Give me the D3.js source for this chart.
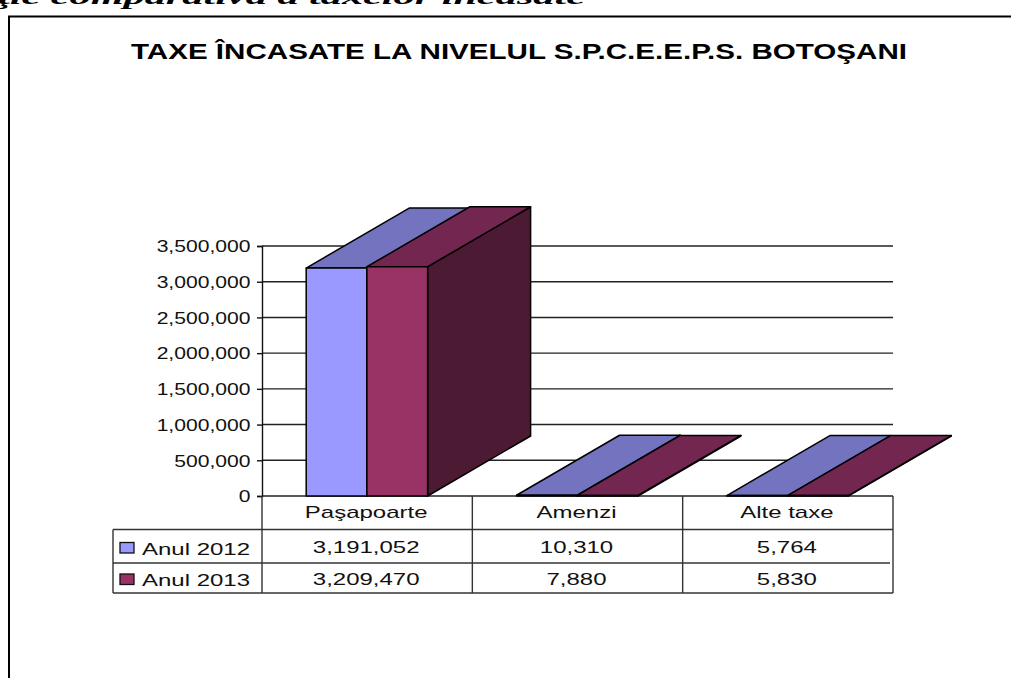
<!DOCTYPE html>
<html>
<head>
<meta charset="utf-8">
<script src="https://cdn.jsdelivr.net/npm/d3@7"></script>
<style>
  html, body { margin: 0; padding: 0; background: #fff; overflow: hidden; }
  svg { display: block; }
  text { font-family: "Liberation Sans", Arial, sans-serif; fill: #111; }
</style>
</head>
<body>
<svg id="chart" width="1011" height="678"></svg>
<script>
const headingText = "ţie comparativă a taxelor încasate";
const titleText = "TAXE ÎNCASATE LA NIVELUL S.P.C.E.E.P.S. BOTOŞANI";
const categories = ["Paşapoarte", "Amenzi", "Alte taxe"];
const seriesNames = ["Anul 2012", "Anul 2013"];
const values2012 = [3191052, 10310, 5764];
const values2013 = [3209470, 7880, 5830];
const yTicks = [0, 500000, 1000000, 1500000, 2000000, 2500000, 3000000, 3500000];
const frontColors = ["#9999ff", "#993366"];
const topColors = ["#7373bf", "#732650"];
const sideColors = ["#7373bf", "#4d1a33"];

const svg = d3.select("#chart");
const fmt = d3.format(",");
const tickStretch = 1.32, tableStretch = 1.5;
const depthX = 103, depthY = 60;
const plot = { left: 262, right: 893, bottom: 496, top: 246 };
const rows = { head: 529.5, first: 563, second: 593, left: 113 };

const y = d3.scaleLinear().domain([0, 3500000]).range([plot.bottom, plot.top]);
const x = d3.scaleBand().domain(categories).range([plot.left, plot.right]);
const xInner = d3.scaleBand().domain(seriesNames).range([44.2, 165.6]);
const seriesValues = [values2012, values2013];

// clipped heading above the frame
svg.append("text")
  .attr("x", -2).attr("y", 3.5)
  .attr("textLength", 587).attr("lengthAdjust", "spacingAndGlyphs")
  .style("font-family", '"Liberation Serif", serif')
  .style("font-weight", 700).style("font-style", "italic").style("font-size", "21px")
  .style("fill", "#000")
  .text(headingText);

// outer frame, cut by the picture on the right and at the bottom
svg.append("path")
  .attr("d", "M9,678V16.5H1011")
  .attr("fill", "none").attr("stroke", "#000").attr("stroke-width", 2);

svg.append("text")
  .attr("x", 131).attr("y", 58.5)
  .attr("textLength", 776).attr("lengthAdjust", "spacingAndGlyphs")
  .style("font-weight", 700).style("font-size", "21.5px").style("fill", "#000")
  .text(titleText);

// gridlines
svg.append("g").selectAll("line")
  .data(yTicks)
  .join("line")
  .attr("x1", plot.left).attr("x2", plot.right)
  .attr("y1", (d) => y(d)).attr("y2", (d) => y(d))
  .attr("stroke", "#222").attr("stroke-width", 1.4);

// y axis
const yAxis = svg.append("g")
  .attr("transform", `translate(${plot.left},0)`)
  .call(d3.axisLeft(y).tickValues(yTicks).tickSize(5).tickFormat(fmt));
yAxis.selectAll("path,line").attr("stroke", "#111").attr("stroke-width", 1.4);
yAxis.selectAll("text")
  .attr("x", -11.5 / tickStretch).attr("dy", "0.36em")
  .attr("transform", `scale(${tickStretch},1)`)
  .style("font-size", "16px").style("font-family", '"Liberation Sans", sans-serif');

// 3d bars, back to front per series
const bars = svg.append("g").attr("stroke", "#000").attr("stroke-width", 1.5).attr("stroke-linejoin", "round");
categories.forEach((cat, c) => {
  seriesNames.forEach((name, s) => {
    const x0 = x(cat) + xInner(name);
    const x1 = x0 + xInner.bandwidth();
    const yTop = y(seriesValues[s][c]);
    const yBase = y(0);
    const pts = (list) => list.map((p) => p.join(",")).join(" ");
    bars.append("polygon")
      .attr("points", pts([[x1, yTop], [x1 + depthX, yTop - depthY], [x1 + depthX, yBase - depthY], [x1, yBase]]))
      .attr("fill", sideColors[s]);
    bars.append("polygon")
      .attr("points", pts([[x0, yTop], [x0 + depthX, yTop - depthY], [x1 + depthX, yTop - depthY], [x1, yTop]]))
      .attr("fill", topColors[s]);
    bars.append("rect")
      .attr("x", x0).attr("y", yTop)
      .attr("width", x1 - x0).attr("height", yBase - yTop)
      .attr("fill", frontColors[s]);
  });
});

// data table lines
const table = svg.append("g").attr("stroke", "#333").attr("stroke-width", 1.4).attr("fill", "none");
const colEdges = categories.map((c) => x(c)).concat([plot.right]);
table.selectAll(".col")
  .data(colEdges)
  .join("line")
  .attr("x1", (d) => d).attr("x2", (d) => d)
  .attr("y1", plot.bottom).attr("y2", rows.second);
table.append("line").attr("x1", rows.left).attr("x2", rows.left).attr("y1", rows.head).attr("y2", rows.second);
table.selectAll(".row")
  .data([rows.head, rows.first, rows.second])
  .join("line")
  .attr("x1", rows.left).attr("x2", (d) => (d === rows.first ? plot.right - 3 : plot.right))
  .attr("y1", (d) => d).attr("y2", (d) => d);

// table text
function cell(cx, cy, str, anchor) {
  svg.append("text")
    .attr("transform", `translate(${cx},${cy}) scale(${tableStretch},1)`)
    .attr("text-anchor", anchor || "middle")
    .style("font-size", "16px")
    .text(str);
}
categories.forEach((cat, c) => {
  const mid = x(cat) + x.bandwidth() / 2;
  cell(mid - 1, 518, cat);
  cell(mid - 1, 553, fmt(values2012[c]));
  cell(mid - 1, 585, fmt(values2013[c]));
});

// legend keys and row headers
const rowBase = [555, 585.5];
const keyBase = [553, 584.5];
seriesNames.forEach((name, s) => {
  svg.append("rect")
    .attr("x", 120).attr("y", keyBase[s] - 10.5)
    .attr("width", 14).attr("height", 10.5)
    .attr("fill", frontColors[s]).attr("stroke", "#111").attr("stroke-width", 1.3);
  cell(142, rowBase[s], name, "start");
});
</script>
</body>
</html>
